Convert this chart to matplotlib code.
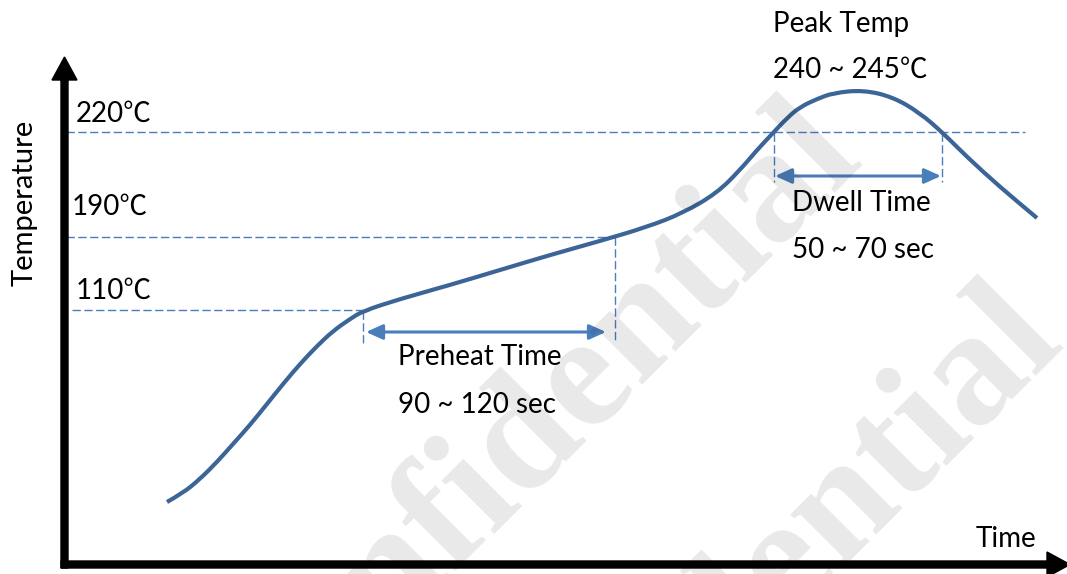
import matplotlib
matplotlib.use("Agg")
import matplotlib.pyplot as plt
from matplotlib.path import Path
from matplotlib.patches import PathPatch

# reflow profile in pixel units (y grows downward)
curve_x = [167, 183, 200, 217, 233, 250, 267, 283, 300, 317, 333, 350, 363,
           400, 450, 500, 550, 600, 647, 683, 717, 740, 757, 773, 787, 800,
           817, 833, 863, 893, 920, 943, 967, 1000, 1037]
curve_y = [502, 493, 479, 462, 444, 425, 404, 384, 364, 346, 331, 319, 311,
           299, 285, 270, 255, 241, 227, 213, 193, 170, 150, 133, 118, 107,
           99, 93, 90, 97, 113, 133, 157, 187, 218]

level_labels = ['220℃', '190℃', '110℃']
level_y = [132, 237, 310]
level_x0 = [66, 66, 72]
level_x1 = [1025, 615, 363]
label_x = [76, 72, 76]
label_y = [122, 215, 299]

marker_x = [363, 615, 774, 942]
marker_y0 = [311, 237, 133, 133]
marker_y1 = [345, 342, 182, 182]

span_x0 = [366, 775]
span_x1 = [606, 941]
span_y = [332, 176]

notes = ['Peak Temp', '240 ~ 245℃', 'Preheat Time', '90 ~ 120 sec',
         'Dwell Time', '50 ~ 70 sec', 'Time']
note_x = [773, 773, 398, 398, 792, 792, 976]
note_y = [32, 78, 365, 413, 211, 258, 547]

fonts = ['Lato', 'Noto Sans CJK TC', 'DejaVu Sans']
blue = '#4a7ebb'

fig = plt.figure(figsize=(10.67, 5.74), dpi=100)
ax = fig.add_axes([0, 0, 1, 1])
ax.set_xlim(0, 1067)
ax.set_ylim(574, 0)
ax.axis('off')

# axes with arrow heads
ax.arrow(64.5, 568, 0, -511, width=7, head_width=25, head_length=23,
         length_includes_head=True, color='k', zorder=3)
ax.arrow(61, 564.5, 1009, 0, width=7, head_width=25, head_length=23,
         length_includes_head=True, color='k', zorder=3)

for lab, y, x0, x1, lx, ly in zip(level_labels, level_y, level_x0, level_x1, label_x, label_y):
    ax.plot([x0, x1], [y, y], color=blue, lw=1, ls=(0, (6, 2.5)))
    ax.text(lx, ly, lab, fontsize=20, family=fonts, va='baseline', ha='left')

for x, y0, y1 in zip(marker_x, marker_y0, marker_y1):
    ax.plot([x, x], [y0, y1], color=blue, lw=1, ls=(0, (6, 2.5)))

for x0, x1, y in zip(span_x0, span_x1, span_y):
    ax.annotate('', xy=(x1, y), xytext=(x0, y),
                arrowprops=dict(arrowstyle='<|-|>,head_length=1.0,head_width=0.45',
                                color=blue, lw=2.2, shrinkA=0, shrinkB=0,
                                mutation_scale=10))

# smooth curve: read points used as quadratic control points
pts = list(zip(curve_x, curve_y))
verts = [pts[0]]
codes = [Path.MOVETO]
for i in range(1, len(pts) - 1):
    mid = ((pts[i][0] + pts[i + 1][0]) / 2, (pts[i][1] + pts[i + 1][1]) / 2)
    verts += [pts[i], mid]
    codes += [Path.CURVE3, Path.CURVE3]
verts.append(pts[-1])
codes.append(Path.LINETO)
ax.add_patch(PathPatch(Path(verts, codes), fill=False, edgecolor='#3b6597',
                       lw=3, capstyle='butt', zorder=4))

for t, x, y in zip(notes, note_x, note_y):
    ax.text(x, y, t, fontsize=20, family=fonts, va='baseline', ha='left')

ax.text(24.5, 203, 'Temperature', fontsize=21, family=fonts, rotation=90,
        ha='center', va='center')

# watermark
for wx, wy in [(245, 775), (446, 958)]:
    ax.text(wx, wy, 'Confidential', fontsize=118, family='Liberation Serif',
            weight='bold', color='k', alpha=0.09, rotation=45,
            rotation_mode='anchor', ha='left', va='baseline', zorder=10)

fig.savefig('out.png', dpi=100)
